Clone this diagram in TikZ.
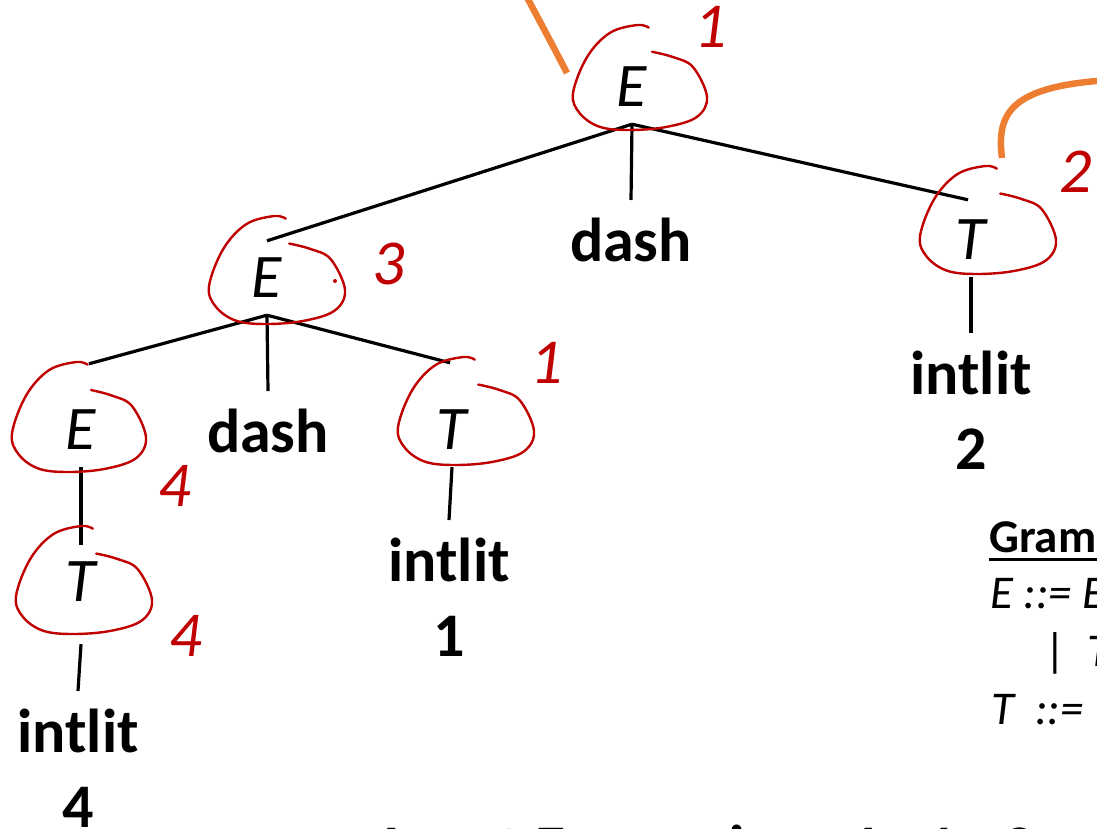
\documentclass[tikz,border=0pt]{standalone}
\usepackage{fontspec}
\setmainfont{Carlito}
\definecolor{penred}{RGB}{192,0,0}
\definecolor{hiorange}{RGB}{237,125,49}
\begin{document}
\begin{tikzpicture}[x=1pt,y=-1pt,
  nonterm/.style={font=\itshape\fontsize{62}{62}\selectfont, inner sep=0pt, minimum height=74pt},
  term/.style={font=\bfseries\fontsize{62}{75}\selectfont, inner xsep=0pt, inner ysep=18pt, align=center, anchor=north},
  edge/.style={line width=3.2pt},
  redpen/.style={draw=penred, line width=2.4pt, line cap=round},
  tally/.style={text=penred, font=\itshape\fontsize{64}{64}\selectfont, inner sep=0pt},
  hilite/.style={draw=hiorange, line width=6.5pt},
  gram/.style={font=\fontsize{47}{47}\selectfont, inner sep=0pt, anchor=base west},
  handring/.pic={
    \draw[redpen] plot[smooth, tension=0.6] coordinates {
      (0.13,-0.95) (-0.04,-1) (-0.45,-0.85) (-0.79,-0.39) (-1,0.3) (-0.9,0.68)
      (-0.6,0.94) (-0.15,1) (0.4,0.94) (0.85,0.75) (1,0.37) (0.79,-0.2)
      (0.49,-0.39) (0.18,-0.49)};
  },
]
\useasboundingbox (0,0) rectangle (1097,829);
\clip (0,0) rectangle (1097,829);
\fill[white] (0,0) rectangle (1097,829);

% nonterminals
\node[nonterm] (rootE) at (632,87)  {E};
\node[nonterm] (midE)  at (267,278) {E};
\node[nonterm] (rightT) at (971,240) {T};
\node[nonterm] (leftE) at (81,430)  {E};
\node[nonterm] (midT)  at (452,430) {T};
\node[nonterm] (botT)  at (81,582)  {T};

% terminals
\node[term] (dash1) at (631,200) {dash};
\node[term] (dash2) at (268,391) {dash};
\node[term] (int2)  at (971,333) {intlit\\2};
\node[term] (int1)  at (449,520) {intlit\\1};
\node[term] (int4)  at (78,691)  {intlit\\4};

% tree edges
\draw[edge] (rootE.south) -- (midE.north);
\draw[edge] (rootE.south) -- (dash1.north);
\draw[edge] (rootE.south) -- ([shift={(-3pt,3pt)}]rightT.north);
\draw[edge] (midE.south) -- ([shift={(8pt,29pt)}]leftE.north);
\draw[edge] (midE.south) -- (dash2.north);
\draw[edge] (midE.south) -- ([shift={(-2pt,30pt)}]midT.north);
\draw[edge] (leftE.south) -- (botT.north);
\draw[edge] ([yshift=-25pt]botT.south) -- (int4.north);
\draw[edge] (midT.south) -- (int1.north);
\draw[edge] (rightT.south) -- (int2.north);

% hand-drawn rings
\path (640,77.5) pic[xscale=67,yscale=52.5] {handring};
\path (988,220)  pic[xscale=68,yscale=54] {handring};
\path (277,270)  pic[xscale=68,yscale=54] {handring};
\path (79,417)   pic[xscale=67,yscale=55] {handring};
\path (466,411)  pic[xscale=68,yscale=54] {handring};
\path (84,580)   pic[xscale=68,yscale=54] {handring};
\fill[penred] (335,281) circle (2pt);

% hand-written counts
\node[tally] (c1) at (711,27)  {1};
\node[tally] (c2) at (1076,172) {2};
\node[tally] (c3) at (389,264) {3};
\node[tally] (c4) at (547,363) {1};
\node[tally] (c5) at (175,486) {4};
\node[tally] (c6) at (186,636) {4};

% orange strokes
\draw[hilite] (567,73) .. controls (552,44) and (538,18) .. (522,-12);
\draw[hilite] (1002,158) .. controls (996,112) and (1012,86) .. (1110,80);

% grammar
\node[gram, font=\bfseries\fontsize{47}{47}\selectfont] (gtitle) at (989,552) {Grammar};
\draw[line width=3pt] ([yshift=-7pt]gtitle.base west) -- ([yshift=-7pt]gtitle.base east);
\node[gram] (gline1) at (990,608) {\itshape E ::= E \textbf{dash} T};
\node[gram] (gline2) at (1044,666) {|\ \ \textit{T}};
\node[gram] (gline3) at (991,724) {\itshape T\ \ ::=\ \ \textbf{intlit}};

% input line
\node[font=\bfseries\fontsize{62}{62}\selectfont, inner sep=0pt, anchor=base west] (inputline) at (383,868) {Input Expression: 4 - 1 - 2};
\end{tikzpicture}
\end{document}
